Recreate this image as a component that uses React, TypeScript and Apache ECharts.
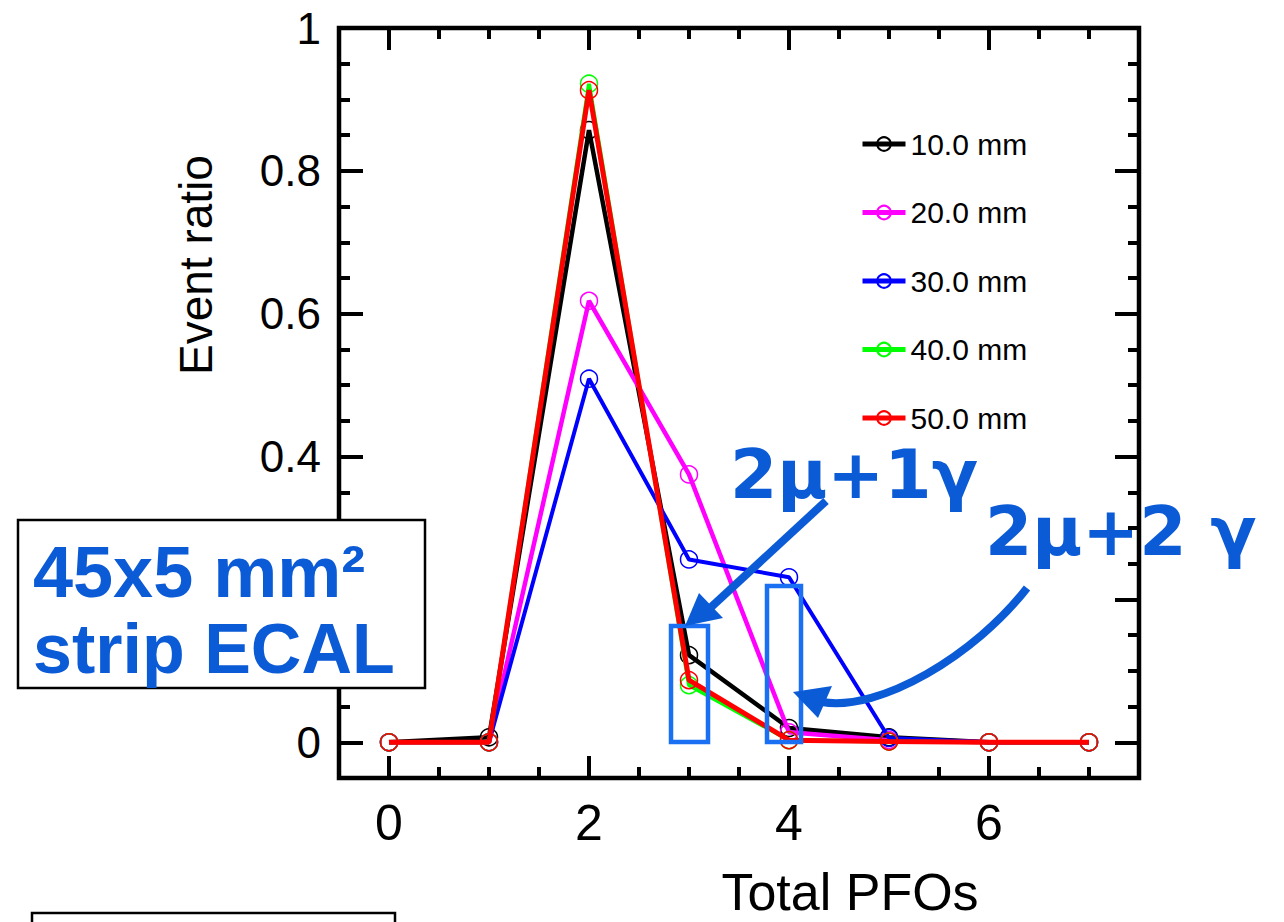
import React, { useEffect, useRef } from "react";
import * as echarts from "echarts";

const totalPFOs = [0, 1, 2, 3, 4, 5, 6, 7];
const names = ["10.0 mm", "20.0 mm", "30.0 mm", "40.0 mm", "50.0 mm"];
const colors = ["#000000", "#ff00ff", "#0000ff", "#00ff00", "#ff0000"];
const lineWidths = [4.5, 4.5, 4, 4, 5];
const ratio10 = [0, 0.007, 0.857, 0.122, 0.02, 0.007, 0, 0];
const ratio20 = [0, 0, 0.618, 0.375, 0.014, 0.003, 0, 0];
const ratio30 = [0, 0, 0.509, 0.256, 0.231, 0.006, 0, 0];
const ratio40 = [0, 0, 0.922, 0.08, 0.003, 0.001, 0, 0];
const ratio50 = [0, 0, 0.913, 0.087, 0.003, 0.001, 0, 0];
const allRatios = [ratio10, ratio20, ratio30, ratio40, ratio50];

const xMajor = [0, 2, 4, 6];
const xMinor = [0.5, 1, 1.5, 2.5, 3, 3.5, 4.5, 5, 5.5, 6.5, 7];
const yMajor = [0, 0.2, 0.4, 0.6, 0.8, 1];
// the 0.2 label is hidden behind the annotation box in the reference
const yLabels = [0, 0.4, 0.6, 0.8, 1];
const yMinor = [0.05, 0.1, 0.15, 0.25, 0.3, 0.35, 0.45, 0.5, 0.55, 0.65, 0.7, 0.75, 0.85, 0.9, 0.95];

const FONT = "Liberation Sans";
const BLUE = "#0b5bd7";
const BOX_BLUE = "#1a6ff2";

function xAxisDef(pos: string, vals: number[], len: number, labels: boolean) {
  return {
    type: "value",
    position: pos,
    min: -0.5,
    max: 7.5,
    axisLine: { show: false, onZero: false },
    splitLine: { show: false },
    axisTick: { show: true, inside: true, length: len, customValues: vals, lineStyle: { color: "#000", width: 4 } },
    axisLabel: labels
      ? { show: true, customValues: xMajor, fontSize: 50, fontFamily: FONT, color: "#000", margin: 20 }
      : { show: false },
  };
}

function yAxisDef(pos: string, vals: number[], len: number, labels: boolean) {
  return {
    type: "value",
    position: pos,
    min: -0.05,
    max: 1,
    axisLine: { show: false, onZero: false },
    splitLine: { show: false },
    axisTick: { show: true, inside: true, length: len, customValues: vals, lineStyle: { color: "#000", width: 4 } },
    axisLabel: labels
      ? {
          show: true,
          customValues: yLabels,
          fontSize: 44,
          fontFamily: FONT,
          color: "#000",
          margin: 18,
          formatter: (v: number) => (Math.abs(v) < 1e-9 ? "0" : Math.abs(v - 1) < 1e-9 ? "1" : v.toFixed(1)),
        }
      : { show: false },
  };
}

export default function App() {
  const ref = useRef<HTMLDivElement>(null);
  useEffect(() => {
    const chart = echarts.init(ref.current!, null, { renderer: "svg" });
    const series = names.map((n, i) => ({
      name: n,
      type: "line",
      xAxisIndex: 0,
      yAxisIndex: 0,
      data: totalPFOs.map((x, k) => [x, allRatios[i][k]]),
      symbol: "circle",
      symbolSize: 17,
      lineStyle: { color: colors[i], width: lineWidths[i] },
      itemStyle: { color: "rgba(0,0,0,0)", borderColor: colors[i], borderWidth: 1.5 },
      emphasis: { disabled: true },
      z: 2 + i,
    }));
    chart.setOption({
      animation: false,
      backgroundColor: "#ffffff",
      grid: {
        left: 339,
        top: 28,
        width: 800,
        height: 750,
        show: true,
        borderColor: "#000",
        borderWidth: 4.5,
        backgroundColor: "rgba(0,0,0,0)",
      },
      xAxis: [
        xAxisDef("bottom", xMajor, 22, true),
        xAxisDef("bottom", xMinor, 11, false),
        xAxisDef("top", xMajor, 22, false),
        xAxisDef("top", xMinor, 11, false),
      ],
      yAxis: [
        yAxisDef("left", yMajor, 24, true),
        yAxisDef("left", yMinor, 11, false),
        yAxisDef("right", yMajor, 24, false),
        yAxisDef("right", yMinor, 11, false),
      ],
      legend: {
        orient: "vertical",
        left: 855,
        top: 124,
        itemWidth: 43,
        itemHeight: 17,
        itemGap: 38.5,
        selectedMode: false,
        lineStyle: { width: 5 },
        textStyle: { fontSize: 30, fontFamily: FONT, color: "#000" },
        data: names,
      },
      series,
      graphic: [
        {
          type: "text",
          x: 196,
          y: 265,
          rotation: Math.PI / 2,
          style: { text: "Event ratio", fontSize: 46, fontFamily: FONT, fill: "#000", align: "center", verticalAlign: "middle" },
        },
        {
          type: "text",
          x: 850,
          y: 892,
          style: { text: "Total PFOs", fontSize: 52, fontFamily: FONT, fill: "#000", align: "center", verticalAlign: "middle" },
        },
        {
          type: "rect",
          z: 50,
          shape: { x: 671, y: 626, width: 37, height: 116 },
          style: { fill: "none", stroke: BOX_BLUE, lineWidth: 4.5 },
        },
        {
          type: "rect",
          z: 50,
          shape: { x: 767, y: 586, width: 34, height: 156 },
          style: { fill: "none", stroke: BOX_BLUE, lineWidth: 4.5 },
        },
        {
          type: "line",
          z: 51,
          shape: { x1: 826, y1: 501, x2: 708, y2: 610 },
          style: { stroke: BLUE, lineWidth: 8 },
        },
        {
          type: "polygon",
          z: 51,
          shape: { points: [[685, 626], [699, 593], [723, 618]] },
          style: { fill: BLUE },
        },
        {
          type: "bezierCurve",
          z: 51,
          shape: { x1: 1027, y1: 588, cpx1: 975, cpy1: 655, cpx2: 880, cpy2: 712, x2: 822, y2: 702 },
          style: { stroke: BLUE, lineWidth: 8, fill: "none" },
        },
        {
          type: "polygon",
          z: 51,
          shape: { points: [[793, 692], [832, 686], [818, 718]] },
          style: { fill: BLUE },
        },
        {
          type: "text",
          z: 52,
          x: 730,
          y: 474,
          style: { text: "2μ+1γ", fontSize: 68, fontWeight: "bold", fontFamily: "DejaVu Sans", fill: BLUE, align: "left", verticalAlign: "middle" },
        },
        {
          type: "text",
          z: 52,
          x: 985,
          y: 531,
          style: { text: "2μ+2 γ", fontSize: 68, fontWeight: "bold", fontFamily: "DejaVu Sans", fill: BLUE, align: "left", verticalAlign: "middle" },
        },
        {
          type: "rect",
          z: 60,
          shape: { x: 18, y: 520, width: 407, height: 168 },
          style: { fill: "#ffffff", stroke: "#000", lineWidth: 2.5 },
        },
        {
          type: "text",
          z: 61,
          x: 33,
          y: 572,
          style: { text: "45x5 mm²", fontSize: 72, fontWeight: "bold", fontFamily: FONT, fill: BLUE, align: "left", verticalAlign: "middle" },
        },
        {
          type: "text",
          z: 61,
          x: 33,
          y: 649,
          style: { text: "strip ECAL", fontSize: 70, fontWeight: "bold", fontFamily: FONT, fill: BLUE, align: "left", verticalAlign: "middle" },
        },
        {
          type: "rect",
          z: 60,
          shape: { x: 32, y: 913, width: 363, height: 40 },
          style: { fill: "#ffffff", stroke: "#000", lineWidth: 2.5 },
        },
      ],
    });
    return () => chart.dispose();
  }, []);
  return <div ref={ref} style={{ position: "fixed", left: 0, top: 0, width: 1284, height: 922 }} />;
}
